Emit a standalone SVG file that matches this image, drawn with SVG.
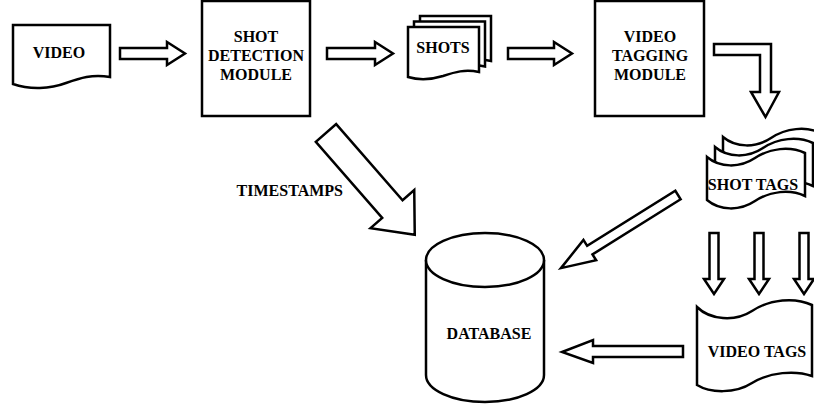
<svg xmlns="http://www.w3.org/2000/svg" width="814" height="410" viewBox="0 0 814 410">
<style>
.s{fill:#fff;stroke:#000;stroke-width:2.5;stroke-linejoin:miter}
.t{font-family:"Liberation Serif","Times New Roman",serif;font-weight:bold;font-size:16px;fill:#000;text-anchor:middle}
</style>
<rect width="814" height="410" fill="#fff"/>
<g id="video">
<path class="s" d="M13,25 H110 V77 C92,74 80,78 66,83 C50,89 30,90 13,84 Z"/>
<text class="t" x="59" y="58">VIDEO</text>
</g>
<g id="shot-detection">
<rect class="s" x="202" y="1" width="108" height="115"/>
<text class="t" x="256" y="42">SHOT</text>
<text class="t" x="256" y="61">DETECTION</text>
<text class="t" x="256" y="80">MODULE</text>
</g>
<g id="shots">
<path class="s" transform="translate(12,-11)" d="M408,27 H479 V72 C465,69 455,72 443,76 C430,80 418,80 408,77 Z"/>
<path class="s" transform="translate(6,-5.5)" d="M408,27 H479 V72 C465,69 455,72 443,76 C430,80 418,80 408,77 Z"/>
<path class="s" d="M408,27 H479 V72 C465,69 455,72 443,76 C430,80 418,80 408,77 Z"/>
<text class="t" x="443" y="53">SHOTS</text>
</g>
<g id="video-tagging">
<rect class="s" x="595" y="1" width="109" height="115"/>
<text class="t" x="650" y="42">VIDEO</text>
<text class="t" x="650" y="61">TAGGING</text>
<text class="t" x="650" y="80">MODULE</text>
</g>
<g id="shot-tags">
<path class="s" transform="translate(16,-20)" d="M707,157 C720,168 740,168 755,158 C770,148 790,146 805,153 V196 C790,189 770,191 755,201 C740,211 720,211 707,200 Z"/>
<path class="s" transform="translate(8,-10)" d="M707,157 C720,168 740,168 755,158 C770,148 790,146 805,153 V196 C790,189 770,191 755,201 C740,211 720,211 707,200 Z"/>
<path class="s" d="M707,157 C720,168 740,168 755,158 C770,148 790,146 805,153 V196 C790,189 770,191 755,201 C740,211 720,211 707,200 Z"/>
<text class="t" x="753" y="190">SHOT TAGS</text>
</g>
<g id="video-tags">
<path class="s" d="M697,307 C710,320 735,322 752,311 C770,299 795,297 812,305 V376 C795,370 770,372 752,383 C735,394 710,393 697,385 Z"/>
<text class="t" x="757" y="357">VIDEO TAGS</text>
</g>
<g id="database">
<path class="s" d="M426,260 V375 A59,27 0 0,0 544,375 V260"/>
<ellipse class="s" cx="485" cy="260" rx="59" ry="27"/>
<text class="t" x="489" y="339">DATABASE</text>
</g>
<g id="connectors">
<polygon class="s" points="120,48 167,48 167,42 185,53.5 167,65 167,59 120,59"/>
<polygon class="s" points="327,48 375,48 375,42 393,53.5 375,65 375,59 327,59"/>
<polygon class="s" points="508,48 554,48 554,42 572,53.5 554,65 554,59 508,59"/>
<path class="s" d="M714,44 H771 V92 H779 L765.5,117 L751,92 H760 V55 H714 Z"/>
<polygon class="s" transform="translate(326,133) rotate(48.9)" points="0,-13.5 101,-13.5 101,-29 135,0 101,29 101,13.5 0,13.5"/>
<polygon class="s" transform="translate(678,195) rotate(148)" points="0,-5 104,-5 104,-12 138,0 104,12 104,5 0,5"/>
<polygon class="s" points="709.5,233 718.5,233 718.5,279 724,279 714,294 704,279 709.5,279"/>
<polygon class="s" points="754.5,233 763.5,233 763.5,279 769,279 759,294 749,279 754.5,279"/>
<polygon class="s" points="799.5,233 808.5,233 808.5,279 814,279 804,294 794,279 799.5,279"/>
<polygon class="s" points="683,346 593,346 593,340 562,352 593,363 593,357 683,357"/>
<text class="t" x="343" y="196" style="text-anchor:end">TIMESTAMPS</text>
</g>
</svg>
